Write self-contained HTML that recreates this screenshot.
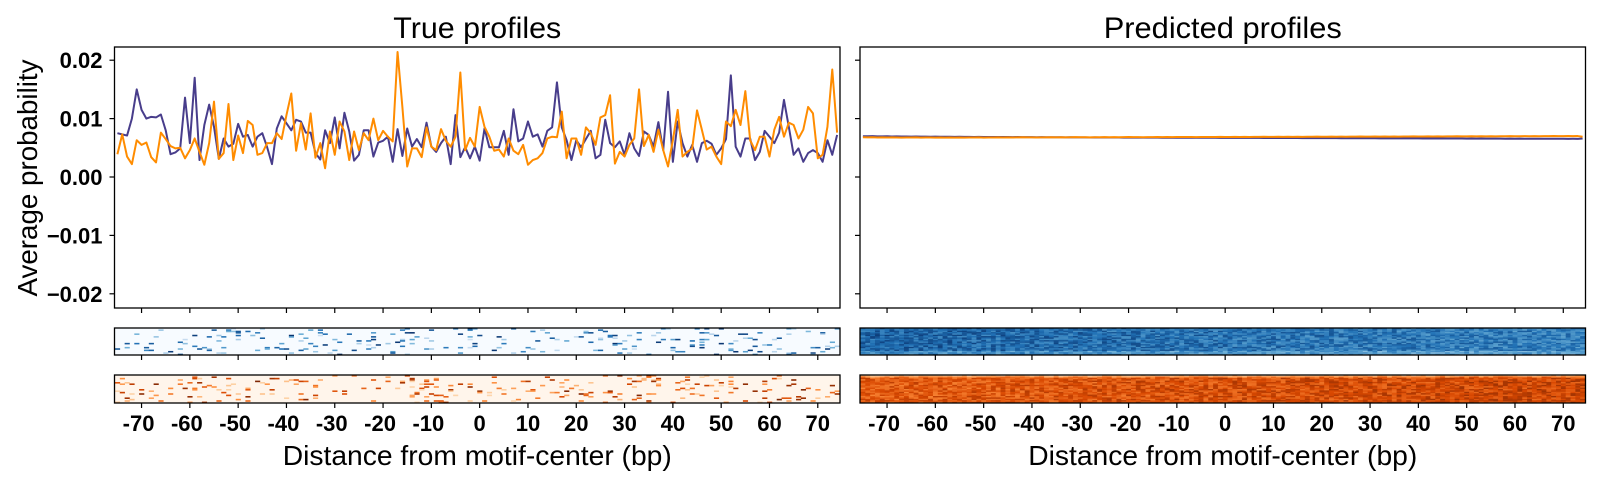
<!DOCTYPE html>
<html><head><meta charset="utf-8"><style>
html,body{margin:0;padding:0;background:#fff;}
svg{display:block;font-family:"Liberation Sans",sans-serif;}
</style></head><body>
<svg id="fig" width="1600" height="484" viewBox="0 0 1600 484"></svg>
<script>
// ---- data (units of 1e-4 for true profiles, 1e-5 for predicted) ----
const positions = Array.from({length:150},(_,i)=>i-75);
const trueProfileA = [75,73,71,100,150,115,100,103,102,107,80,39,42,49,136,58,170,29,89,124,86,31,66,52,57,91,69,72,52,69,75,51,22,83,104,92,80,98,95,76,76,41,30,80,58,102,49,110,78,28,38,80,80,35,59,62,69,26,82,36,83,52,65,51,93,52,43,58,69,22,106,34,51,32,
52,28,83,51,51,51,79,38,116,61,66,95,69,73,52,79,85,162,85,63,29,63,51,65,79,32,38,98,58,51,61,38,75,49,36,78,72,52,94,46,146,26,95,58,35,55,26,58,62,57,38,49,65,174,52,35,66,66,29,43,79,69,58,76,132,86,38,49,26,41,46,41,26,
63,38,72];
const trueProfileB = [39,73,35,22,63,55,59,34,25,76,65,53,49,50,32,46,66,43,21,58,129,31,41,125,29,71,41,96,89,38,41,58,58,75,65,106,143,45,92,47,109,33,58,15,78,38,95,78,29,78,46,75,63,100,63,79,69,61,214,120,18,49,49,34,85,52,46,82,62,52,69,179,46,67,
52,120,86,69,45,47,35,66,45,39,55,21,29,32,41,66,69,68,112,32,66,66,38,85,75,55,102,106,140,23,43,35,55,66,150,53,72,43,81,46,18,63,115,35,43,49,114,81,47,52,35,22,95,87,115,89,147,63,46,69,69,35,81,103,69,93,89,66,81,120,109,32,38,
86,184,76];
const predProfileA = [698,697,699,696,695,697,694,695,693,694,692,693,691,692,690,691,690,689,690,688,689,687,688,686,687,686,685,686,684,685,684,683,684,682,683,682,681,682,680,681,680,681,679,680,679,678,679,677,678,677,678,676,677,676,675,676,675,676,674,675,674,675,673,674,673,674,672,673,672,673,671,672,671,672,670,671,670,671,669,670,670,669,670,668,669,668,669,667,668,667,668,666,667,666,667,665,666,665,666,664,665,664,665,663,664,663,664,662,663,662,663,662,661,662,661,662,660,661,660,661,660,659,660,659,660,658,659,658,659,657,658,657,658,656,657,656,657,655,656,655,656,655,654,655,654,655,653,654,653,660];
const predProfileB = [680,678,681,677,679,676,678,677,675,677,676,678,675,677,676,674,676,675,677,674,676,675,677,676,678,675,677,676,678,677,679,677,678,680,678,679,677,679,678,680,679,681,679,680,682,680,681,679,681,680,682,681,683,681,682,684,682,683,681,683,682,684,683,685,683,684,686,684,685,683,685,684,686,685,687,685,686,688,686,687,686,688,687,689,687,688,690,688,689,687,689,688,690,689,691,689,690,692,690,691,690,692,691,693,691,692,694,692,693,691,693,692,694,693,695,693,694,696,694,695,694,696,695,697,695,696,698,696,697,695,697,696,698,697,699,697,698,700,698,699,698,700,699,701,699,700,702,700,701,690];
const xTicks = [-70,-60,-50,-40,-30,-20,-10,0,10,20,30,40,50,60,70];
const yTicks = [0.02,0.01,0,-0.01,-0.02];
const yTickLabels = ["0.02","0.01","0.00","\u22120.01","\u22120.02"];

const NS="http://www.w3.org/2000/svg";
const svg=document.getElementById('fig');
function el(tag,attrs,parent){const e=document.createElementNS(NS,tag);for(const k in attrs)e.setAttribute(k,attrs[k]);(parent||svg).appendChild(e);return e;}

const PW=725.5, LEFTS=[114.5,860], TOP=47, BOT=308;
const XMIN=-75.6, XMAX=74.6;
function xs(panel,u){return LEFTS[panel]+(u-XMIN)/(XMAX-XMIN)*PW;}
function ys(v){return 177 - v*5840;}

const titles=["True profiles","Predicted profiles"];
titles.forEach((t,p)=>{
  const tx=el('text',{x:LEFTS[p]+PW/2,y:38,'text-anchor':'middle','font-size':30,textLength:p?238:168,lengthAdjust:'spacingAndGlyphs'},svg);
  tx.textContent=t;
  
  
});

const yl=el('text',{x:0,y:0,transform:'translate(37,178) rotate(-90)','text-anchor':'middle','font-size':28,textLength:237,lengthAdjust:'spacingAndGlyphs'});
yl.textContent="Average probability";



const series=[[trueProfileA,trueProfileB,1e4],[predProfileA,predProfileB,1e5]];
[0,1].forEach(p=>{
  const g=el('g',{});
  
  
  yTicks.forEach((v,i)=>{
    const t=el('line',{x1:LEFTS[p]-5,x2:LEFTS[p],y1:ys(v),y2:ys(v),stroke:'#000','stroke-width':1.2},g);
    
    
    if(p===0){
      const lb=el('text',{x:LEFTS[p]-12,y:ys(v)+8,'text-anchor':'end','font-size':22,'font-weight':'bold'},g);
      lb.textContent=yTickLabels[i];
      
      
    }
  });
  xTicks.forEach(u=>{
    const t=el('line',{x1:xs(p,u),x2:xs(p,u),y1:BOT,y2:BOT+5,stroke:'#000','stroke-width':1.2},g);
    
    
  });
  const cols=['#483d8b','#ff8c00'];
  [0,1].forEach(s=>{
    const arr=series[p][s], sc=series[p][2];
    const d=arr.map((v,i)=>(i?'L':'M')+xs(p,positions[i]).toFixed(2)+','+ys(v/sc).toFixed(2)).join('');
    const path=el('path',{d:d,fill:'none',stroke:cols[s],'stroke-width':2,'stroke-linejoin':'round'},g);
    
    
  });
  const fr=el('rect',{x:LEFTS[p],y:TOP,width:PW,height:BOT-TOP,fill:'none',stroke:'#000','stroke-width':1.3},g);
  
  
});

// heatmap texture (deterministic)
function rng(seed){return function(){seed|=0;seed=seed+0x6D2B79F5|0;let t=Math.imul(seed^seed>>>15,1|seed);t=t+Math.imul(t^t>>>7,61|t)^t;return((t^t>>>14)>>>0)/4294967296;};}
const blues=[[247,251,255],[198,219,239],[107,174,214],[33,113,181],[8,48,107]];
const oranges=[[255,245,235],[253,208,162],[253,141,60],[217,72,1],[127,39,4]];
function cmap(c,t){t=Math.max(0,Math.min(0.9999,t));const f=t*4,i=Math.floor(f),r=f-i;const a=c[i],b=c[i+1];return 'rgb('+a.map((x,k)=>Math.round(x+(b[k]-x)*r)).join(',')+')';}
const ROWS=20;
const HM=[[328,355],[375,403]];
[0,1].forEach(p=>{
  [0,1].forEach(h=>{
    const g=el('g',{});
    
    
    const cm=h?oranges:blues, R=rng(17+p*10+h*3);
    const y0=HM[h][0], y1=HM[h][1], rh=(y1-y0)/ROWS;
    el('rect',{x:LEFTS[p],y:y0,width:PW,height:y1-y0,fill:cmap(cm,p?0.7:0)},g);
    for(let r=0;r<ROWS;r++){
      for(let c=0;c<150;c++){
        let t;
        if(p===0){const q=R(); if(q>0.08) continue; t=0.2+R()*0.8;}
        else{
          const trend=h? (0.68+0.1*c/150) : (0.8-0.12*c/150);
          const rowAdj=h? (r===0?-0.45:(r<2?-0.15:0)) : (r>=ROWS-3?-0.15:0);
          t=trend+rowAdj+(R()-0.5)*0.3;
        }
        el('rect',{x:(xs(p,positions[c])-PW/300).toFixed(2),y:(y0+r*rh).toFixed(2),width:(PW/150+0.3).toFixed(2),height:(rh+0.2).toFixed(2),fill:cmap(cm,t)},g);
      }
    }
    el('rect',{x:LEFTS[p],y:y0,width:PW,height:y1-y0,fill:'none',stroke:'#000','stroke-width':1.3},g);
    xTicks.forEach(u=>{el('line',{x1:xs(p,u),x2:xs(p,u),y1:y1,y2:y1+5,stroke:'#000','stroke-width':1.2},g);});
  });
  xTicks.forEach(u=>{
    const lb=el('text',{x:xs(p,u)-(u<0?3:0),y:431,'text-anchor':'middle','font-size':22,'font-weight':'bold'});
    lb.textContent=String(u);
    
    
  });
  const xl=el('text',{x:LEFTS[p]+PW/2,y:465,'text-anchor':'middle','font-size':28,textLength:389,lengthAdjust:'spacingAndGlyphs'});
  xl.textContent="Distance from motif-center (bp)";
  
  
});
</script>
</body></html>
